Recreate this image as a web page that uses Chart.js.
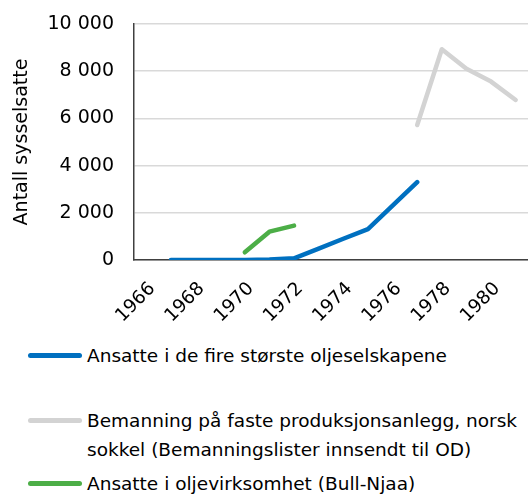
<!DOCTYPE html>
<html>
<head>
<meta charset="utf-8">
<script src="https://cdn.jsdelivr.net/npm/chart.js@4.4.1/dist/chart.umd.min.js"></script>
<style>
    body { margin: 0; background: #fff; font-family: 'DejaVu Sans', sans-serif; }
    #wrap { position: relative; width: 528px; height: 496px; }
    #chartBox { position: absolute; left: 0; top: 0; width: 528px; height: 335px; }
    .item { position: absolute; left: 0; width: 528px; font-size: 18.5px; line-height: 29px; color: #000; }
    .sw { position: absolute; left: 28px; top: 12px; width: 54px; height: 5px; border-radius: 3px; }
    .txt { position: absolute; left: 87px; top: 0; white-space: nowrap; }
</style>
</head>
<body>
<div id="wrap">
    <div id="chartBox"><canvas id="jobsChart"></canvas></div>
    <div id="legend"></div>
</div>
<script>
// years on the x axis (every other one gets a label)
const years = ['1966', '1967', '1968', '1969', '1970', '1971', '1972', '1973',
               '1974', '1975', '1976', '1977', '1978', '1979', '1980', '1981'];

// series (null = no data that year)
const oljeselskaper = [null, 0, 0, 0, 0, 20, 70, 480, 900, 1310, 2300, 3300, null, null, null, null];
const bemanning     = [null, null, null, null, null, null, null, null, null, null, null, 5720, 8930, 8100, 7560, 6780];
const bullNjaa      = [null, null, null, null, 325, 1200, 1455, null, null, null, null, null, null, null, null, null];

const seriesNames = [
    'Ansatte i de fire største oljeselskapene',
    ['Bemanning på faste produksjonsanlegg, norsk', 'sokkel (Bemanningslister innsendt til OD)'],
    'Ansatte i oljevirksomhet (Bull-Njaa)'
];
const seriesColors = ['#0070c0', '#d3d3d3', '#4cae47'];

const yTicks = [0, 2000, 4000, 6000, 8000, 10000];

function fmt(v) {
    return String(v).replace(/\B(?=(\d{3})+(?!\d))/g, ' ');
}

const lineStyle = {
    borderWidth: 4.5,
    pointRadius: 0,
    borderCapStyle: 'round',
    borderJoinStyle: 'round',
    tension: 0,
    spanGaps: false
};

const jobsChart = new Chart(document.getElementById('jobsChart'), {
    type: 'line',
    data: {
        labels: years,
        datasets: [
            { label: seriesNames[0], data: oljeselskaper, borderColor: seriesColors[0], ...lineStyle },
            { label: seriesNames[1].join(' '), data: bemanning, borderColor: seriesColors[1], ...lineStyle },
            { label: seriesNames[2], data: bullNjaa, borderColor: seriesColors[2], ...lineStyle }
        ]
    },
    options: {
        responsive: true,
        maintainAspectRatio: false,
        animation: false,
        layout: { padding: { top: 24, right: 0, left: 0, bottom: 0 } },
        plugins: {
            legend: { display: false },
            tooltip: { enabled: false }
        },
        scales: {
            x: {
                offset: true,
                grid: { display: false, drawTicks: false },
                border: { display: true, color: '#404040', width: 1.5 },
                ticks: {
                    autoSkip: false,
                    maxRotation: 45,
                    minRotation: 45,
                    padding: 18,
                    labelOffset: 6,
                    color: '#000',
                    font: { family: 'DejaVu Sans', size: 18.5 },
                    callback: function (value, index) {
                        return index % 2 === 0 ? years[index] : '';
                    }
                },
                afterFit: function (scale) {
                    scale.height = 75;
                    scale.paddingLeft = 0;
                    scale.paddingRight = 0;
                }
            },
            y: {
                min: 0,
                max: 10000,
                afterBuildTicks: function (scale) {
                    scale.ticks = yTicks.map(v => ({ value: v }));
                },
                grid: { color: '#d9d9d9', lineWidth: 1.5, drawTicks: false },
                border: { display: true, color: '#404040', width: 1.5 },
                ticks: {
                    padding: 20,
                    color: '#000',
                    font: { family: 'DejaVu Sans', size: 19 },
                    callback: function (value) { return fmt(value); }
                },
                title: {
                    display: true,
                    text: 'Antall sysselsatte',
                    color: '#000',
                    font: { family: 'DejaVu Sans', size: 19 },
                    padding: { top: 11, bottom: 0 }
                },
                afterFit: function (scale) {
                    scale.width = 134;
                    scale.paddingTop = 0;
                    scale.paddingBottom = 0;
                }
            }
        }
    }
});

// legend below the chart, laid out like the original
const legendTops = [341, 406, 469];
const legend = document.getElementById('legend');
seriesNames.forEach(function (name, i) {
    const item = document.createElement('div');
    item.className = 'item';
    item.style.top = legendTops[i] + 'px';
    const sw = document.createElement('div');
    sw.className = 'sw';
    sw.style.background = seriesColors[i];
    const txt = document.createElement('div');
    txt.className = 'txt';
    txt.innerHTML = Array.isArray(name) ? name.join('<br>') : name;
    item.appendChild(sw);
    item.appendChild(txt);
    legend.appendChild(item);
});
</script>
</body>
</html>
